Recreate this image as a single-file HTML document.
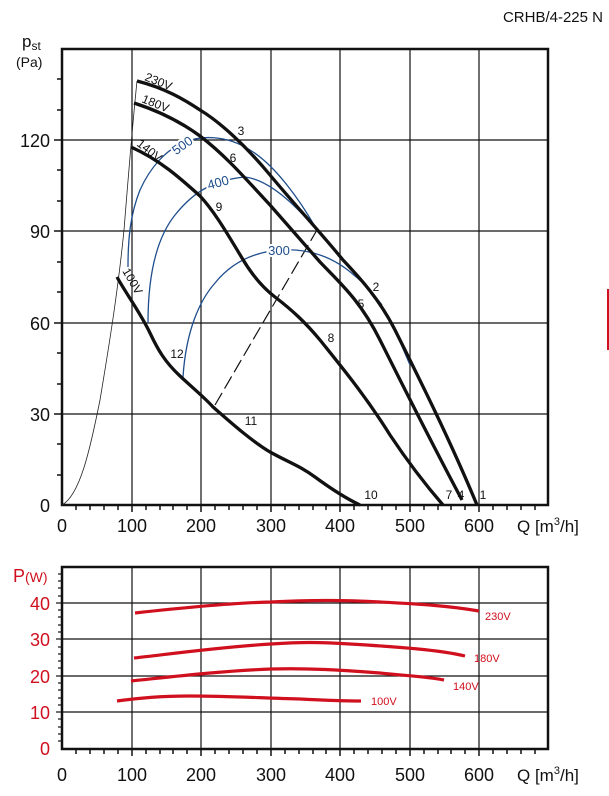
<!DOCTYPE html>
<html><head><meta charset="utf-8"><style>
body{margin:0;background:#fff;}
svg{display:block;font-family:"Liberation Sans",sans-serif;}
</style></head><body>
<svg width="609" height="796" viewBox="0 0 609 796" xmlns="http://www.w3.org/2000/svg">
<text x="603" y="22" font-size="15" text-anchor="end" fill="#111">CRHB/4-225 N</text>
<line x1="608" y1="289" x2="608" y2="350" stroke="#d0101e" stroke-width="2"/>
<g stroke="#111" stroke-width="1.2">
<line x1="132" y1="49" x2="132" y2="505"/><line x1="201" y1="49" x2="201" y2="505"/>
<line x1="271" y1="49" x2="271" y2="505"/><line x1="340" y1="49" x2="340" y2="505"/>
<line x1="410" y1="49" x2="410" y2="505"/><line x1="479" y1="49" x2="479" y2="505"/>
<line x1="62" y1="140" x2="548" y2="140"/><line x1="62" y1="231" x2="548" y2="231"/>
<line x1="62" y1="323" x2="548" y2="323"/><line x1="62" y1="414" x2="548" y2="414"/>
</g>
<rect x="62" y="49" width="486" height="456" fill="none" stroke="#111" stroke-width="2.5"/>
<g stroke="#111" stroke-width="1.5">
<line x1="57" y1="79" x2="62" y2="79"/><line x1="57" y1="110" x2="62" y2="110"/>
<line x1="54" y1="140" x2="62" y2="140"/><line x1="57" y1="170" x2="62" y2="170"/>
<line x1="57" y1="201" x2="62" y2="201"/><line x1="54" y1="231" x2="62" y2="231"/>
<line x1="57" y1="262" x2="62" y2="262"/><line x1="57" y1="292" x2="62" y2="292"/>
<line x1="54" y1="323" x2="62" y2="323"/><line x1="57" y1="353" x2="62" y2="353"/>
<line x1="57" y1="384" x2="62" y2="384"/><line x1="54" y1="414" x2="62" y2="414"/>
<line x1="57" y1="444" x2="62" y2="444"/><line x1="57" y1="475" x2="62" y2="475"/>
</g>
<g stroke="#111" stroke-width="1.5" id="xt">
<line x1="76" y1="505" x2="76" y2="510"/><line x1="90" y1="505" x2="90" y2="510"/><line x1="104" y1="505" x2="104" y2="510"/><line x1="118" y1="505" x2="118" y2="510"/><line x1="132" y1="505" x2="132" y2="512"/>
<line x1="146" y1="505" x2="146" y2="510"/><line x1="160" y1="505" x2="160" y2="510"/><line x1="173" y1="505" x2="173" y2="510"/><line x1="187" y1="505" x2="187" y2="510"/><line x1="201" y1="505" x2="201" y2="512"/>
<line x1="215" y1="505" x2="215" y2="510"/><line x1="229" y1="505" x2="229" y2="510"/><line x1="243" y1="505" x2="243" y2="510"/><line x1="257" y1="505" x2="257" y2="510"/><line x1="271" y1="505" x2="271" y2="512"/>
<line x1="285" y1="505" x2="285" y2="510"/><line x1="299" y1="505" x2="299" y2="510"/><line x1="313" y1="505" x2="313" y2="510"/><line x1="326" y1="505" x2="326" y2="510"/><line x1="340" y1="505" x2="340" y2="512"/>
<line x1="354" y1="505" x2="354" y2="510"/><line x1="368" y1="505" x2="368" y2="510"/><line x1="382" y1="505" x2="382" y2="510"/><line x1="396" y1="505" x2="396" y2="510"/><line x1="410" y1="505" x2="410" y2="512"/>
<line x1="424" y1="505" x2="424" y2="510"/><line x1="438" y1="505" x2="438" y2="510"/><line x1="451" y1="505" x2="451" y2="510"/><line x1="465" y1="505" x2="465" y2="510"/><line x1="479" y1="505" x2="479" y2="512"/>
<line x1="493" y1="505" x2="493" y2="510"/><line x1="507" y1="505" x2="507" y2="510"/><line x1="521" y1="505" x2="521" y2="510"/><line x1="535" y1="505" x2="535" y2="510"/>
</g>
<g font-size="18" fill="#111" text-anchor="end">
<text x="50" y="147">120</text><text x="50" y="238">90</text><text x="50" y="330">60</text><text x="50" y="421">30</text><text x="50" y="512">0</text>
</g>
<text x="22" y="47" font-size="17" fill="#111">p<tspan font-size="12" dy="3">st</tspan></text>
<text x="16" y="67" font-size="14" fill="#111">(Pa)</text>
<g font-size="18" fill="#111" text-anchor="middle">
<text x="62" y="532">0</text><text x="132" y="532">100</text><text x="201" y="532">200</text><text x="271" y="532">300</text><text x="340" y="532">400</text><text x="410" y="532">500</text><text x="479" y="532">600</text>
</g>
<text x="517" y="532" font-size="17" fill="#111">Q [m<tspan font-size="11" dy="-7">3</tspan><tspan dy="7">/h]</tspan></text>
<path d="M62,505 C80,495 90,450 100,400 C110,340 118,290 124,230 C128,180 133,120 137,81" fill="none" stroke="#222" stroke-width="0.8"/>
<line x1="215" y1="405" x2="317" y2="230" stroke="#111" stroke-width="1.2" stroke-dasharray="14,5"/>
<g fill="none" stroke="#1f4e8c" stroke-width="1.3">
<path d="M128,267 C128,240 130,215 140,190 C150,168 165,150 185,142 C200,136 225,134 250,150 C275,165 300,200 317,230 L343,260 C360,278 380,300 395,330 L410,365"/>
<path d="M148,323 C148,280 155,240 175,215 C195,190 215,180 245,177 C270,180 295,205 317,230"/>
<path d="M183,377 C186,330 200,300 215,283 C232,262 255,252 280,250 C310,248 335,258 355,276 C365,284 375,296 382,305"/>
</g>
<g font-size="13" fill="#1f4e8c" text-anchor="middle">
<text x="182" y="150" transform="rotate(-35 182 145)" fill="#1f4e8c" stroke="#fff" stroke-width="4" paint-order="stroke">500</text>
<text x="218" y="187" fill="#1f4e8c" stroke="#fff" stroke-width="4" paint-order="stroke" transform="rotate(-15 218 182)">400</text>
<text x="279" y="255" fill="#1f4e8c" stroke="#fff" stroke-width="4" paint-order="stroke">300</text>
</g>
<g fill="none" stroke="#111" stroke-width="3.3" stroke-linejoin="round">
<path d="M137,81 C165,88 185,100 200,110 C220,122 245,145 270,175 C295,205 320,232 343,260 C360,278 380,300 395,330 C420,380 450,440 477,505"/>
<path d="M134,103 C165,113 185,125 200,136 C225,155 245,178 270,205 C290,228 305,245 320,262 C340,283 360,300 380,340 C400,380 430,440 462,500"/>
<path d="M131,147 C160,160 180,178 200,196 C215,212 228,235 242,258 C252,275 262,287 275,297 C292,310 305,322 320,340 C340,365 365,395 390,435 C410,465 430,490 443,505"/>
<path d="M117,277 C125,292 140,312 150,333 C158,350 165,362 180,376 C195,390 205,398 213,407 C228,420 250,440 270,452 C290,463 300,466 315,477 C330,488 345,498 360,505"/>
</g>
<g font-size="12" fill="#111">
<text x="144" y="80" transform="rotate(22 144 80)">230V</text>
<text x="141" y="102" transform="rotate(22 141 102)">180V</text>
<text x="136" y="145" transform="rotate(38 136 145)">140V</text>
<text x="122" y="271" transform="rotate(60 122 271)">100V</text>
</g>
<g font-size="12" fill="#111" text-anchor="middle">
<text x="241" y="135">3</text><text x="233" y="162">6</text><text x="219" y="211">9</text>
<text x="376" y="291">2</text><text x="361" y="308">5</text><text x="331" y="342">8</text>
<text x="177" y="358">12</text><text x="251" y="425">11</text><text x="371" y="499">10</text>
<text x="449" y="499">7</text><text x="461" y="499">4</text><text x="483" y="499">1</text>
</g>
<g stroke="#111" stroke-width="1.2">
<line x1="132" y1="567" x2="132" y2="749"/><line x1="201" y1="567" x2="201" y2="749"/>
<line x1="271" y1="567" x2="271" y2="749"/><line x1="340" y1="567" x2="340" y2="749"/>
<line x1="410" y1="567" x2="410" y2="749"/><line x1="479" y1="567" x2="479" y2="749"/>
<line x1="62" y1="603" x2="548" y2="603"/><line x1="62" y1="639" x2="548" y2="639"/>
<line x1="62" y1="676" x2="548" y2="676"/><line x1="62" y1="712" x2="548" y2="712"/>
</g>
<rect x="62" y="567" width="486" height="182" fill="none" stroke="#111" stroke-width="2.5"/>
<g stroke="#111" stroke-width="1.2">
<line x1="58" y1="574" x2="62" y2="574"/><line x1="58" y1="581" x2="62" y2="581"/><line x1="58" y1="588" x2="62" y2="588"/><line x1="58" y1="596" x2="62" y2="596"/><line x1="56" y1="603" x2="62" y2="603"/>
<line x1="58" y1="610" x2="62" y2="610"/><line x1="58" y1="617" x2="62" y2="617"/><line x1="58" y1="625" x2="62" y2="625"/><line x1="58" y1="632" x2="62" y2="632"/><line x1="56" y1="639" x2="62" y2="639"/>
<line x1="58" y1="647" x2="62" y2="647"/><line x1="58" y1="654" x2="62" y2="654"/><line x1="58" y1="661" x2="62" y2="661"/><line x1="58" y1="668" x2="62" y2="668"/><line x1="56" y1="676" x2="62" y2="676"/>
<line x1="58" y1="683" x2="62" y2="683"/><line x1="58" y1="690" x2="62" y2="690"/><line x1="58" y1="698" x2="62" y2="698"/><line x1="58" y1="705" x2="62" y2="705"/><line x1="56" y1="712" x2="62" y2="712"/>
<line x1="58" y1="719" x2="62" y2="719"/><line x1="58" y1="727" x2="62" y2="727"/><line x1="58" y1="734" x2="62" y2="734"/><line x1="58" y1="741" x2="62" y2="741"/>
</g>
<use href="#xt" transform="translate(0,244)"/>
<g font-size="18" fill="#d0101e" text-anchor="end">
<text x="50" y="610">40</text><text x="50" y="646">30</text><text x="50" y="683">20</text><text x="50" y="719">10</text><text x="50" y="755">0</text>
</g>
<text x="13" y="582" font-size="18" fill="#d0101e">P<tspan font-size="14">(W)</tspan></text>
<g font-size="18" fill="#111" text-anchor="middle">
<text x="62" y="781">0</text><text x="132" y="781">100</text><text x="201" y="781">200</text><text x="271" y="781">300</text><text x="340" y="781">400</text><text x="410" y="781">500</text><text x="479" y="781">600</text>
</g>
<text x="517" y="781" font-size="17" fill="#111">Q [m<tspan font-size="11" dy="-7">3</tspan><tspan dy="7">/h]</tspan></text>
<g fill="none" stroke="#d0101e" stroke-width="3.2">
<path d="M135,613 C180,608 230,603 271,602 C310,600 345,600 380,602 C420,604 450,606 479,611"/>
<path d="M134,658 C170,654 220,647 271,644 C300,642 320,642 350,644 C400,647 440,650 465,656"/>
<path d="M131,681 C170,677 220,671 271,669 C310,668 340,670 380,673 C410,676 430,677 444,680"/>
<path d="M117,701 C140,698 160,696 190,696 C230,696 260,698 300,699 C320,700 340,701 361,701"/>
</g>
<g font-size="11" fill="#d0101e">
<text x="485" y="620">230V</text><text x="474" y="662">180V</text><text x="453" y="690">140V</text><text x="371" y="705">100V</text>
</g>
</svg>
</body></html>
